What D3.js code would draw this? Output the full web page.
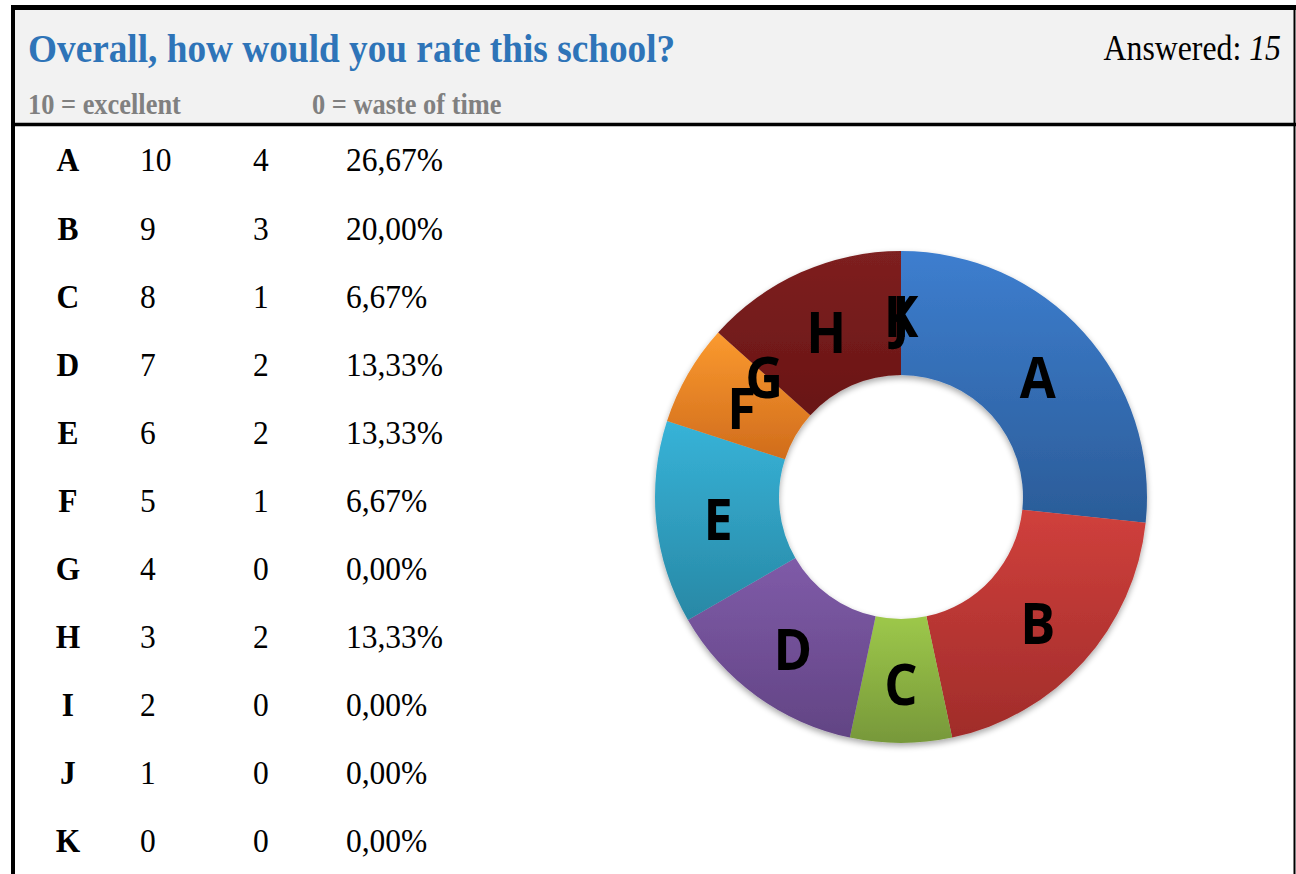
<!DOCTYPE html>
<html>
<head>
<meta charset="utf-8">
<script src="https://cdn.jsdelivr.net/npm/d3@7"></script>
<style>
  body { margin: 0; background: #fff; }
  svg { display: block; }
</style>
</head>
<body>
<script>
// data
const letters  = ["A", "B", "C", "D", "E", "F", "G", "H", "I", "J", "K"];
const scores   = [10, 9, 8, 7, 6, 5, 4, 3, 2, 1, 0];
const counts   = [4, 3, 1, 2, 2, 1, 0, 2, 0, 0, 0];
const percents = ["26,67%", "20,00%", "6,67%", "13,33%", "13,33%", "6,67%",
                  "0,00%", "13,33%", "0,00%", "0,00%", "0,00%"];
const answered = 15;

// slice colours, light (top) / dark (bottom)
const topColors = ["#3d7ecf", "#d0403c", "#9dc84a", "#7f5ba8", "#37b3d8", "#fb9a2f",
                   "#4a7ebb", "#7e2020", "#3d7ecf", "#d0403c", "#9dc84a"];
const botColors = ["#2b5c98", "#a02c2a", "#77983a", "#624484", "#2888a5", "#d06c1c",
                   "#355f90", "#691515", "#2b5c98", "#a02c2a", "#77983a"];

const width = 1296;
const height = 874;
const serif = "'Liberation Serif', 'Times New Roman', serif";
const stretch = 1.1; // the source text is a bit taller than plain Times

const svg = d3.select("body")
  .append("svg")
  .attr("width", width)
  .attr("height", height);

// header band
svg.append("rect")
  .attr("x", 13).attr("y", 8)
  .attr("width", 1281).attr("height", 116)
  .attr("fill", "#f2f2f2");

// frame lines
svg.append("line") // top
  .attr("x1", 11).attr("x2", 1296).attr("y1", 7.5).attr("y2", 7.5)
  .attr("stroke", "#000").attr("stroke-width", 5);
svg.append("line") // left
  .attr("x1", 13).attr("x2", 13).attr("y1", 5).attr("y2", height)
  .attr("stroke", "#000").attr("stroke-width", 4);
svg.append("line") // right
  .attr("x1", 1294.5).attr("x2", 1294.5).attr("y1", 5).attr("y2", height)
  .attr("stroke", "#000").attr("stroke-width", 2);
svg.append("line") // header divider
  .attr("x1", 11).attr("x2", 1296).attr("y1", 124.5).attr("y2", 124.5)
  .attr("stroke", "#000").attr("stroke-width", 3.5);

// title + sub labels
svg.append("text")
  .attr("transform", `translate(28,62) scale(1,${stretch})`)
  .attr("font-family", serif)
  .attr("font-weight", "bold")
  .attr("font-size", 37.3)
  .attr("fill", "#2e74b8")
  .text("Overall, how would you rate this school?");

const ans = svg.append("text")
  .attr("transform", `translate(1281,60) scale(1,${stretch})`)
  .attr("text-anchor", "end")
  .attr("font-family", serif)
  .attr("font-size", 31.8)
  .attr("fill", "#000");
ans.append("tspan").text("Answered: ");
ans.append("tspan").attr("font-style", "italic").text(answered);

svg.selectAll("text.sub")
  .data([{ x: 28, t: "10 = excellent" }, { x: 312, t: "0 = waste of time" }])
  .enter()
  .append("text")
  .attr("class", "sub")
  .attr("transform", d => `translate(${d.x},114) scale(1,${stretch})`)
  .attr("font-family", serif)
  .attr("font-weight", "bold")
  .attr("font-size", 26.4)
  .attr("fill", "#808080")
  .text(d => d.t);

// table
const rowY = d3.scalePoint().domain(letters).range([160, 841]);

const rows = svg.selectAll("g.row")
  .data(letters.map((l, i) => ({ l, s: scores[i], c: counts[i], p: percents[i] })))
  .enter()
  .append("g")
  .attr("class", "row")
  .attr("transform", d => `translate(0,${rowY(d.l)}) scale(1,${stretch})`)
  .attr("font-family", serif)
  .attr("font-size", 31.5)
  .attr("fill", "#000");

rows.append("text").attr("x", 68).attr("text-anchor", "middle")
  .attr("dy", "0.33em").attr("font-weight", "bold").text(d => d.l);
rows.append("text").attr("x", 140).attr("dy", "0.33em").text(d => d.s);
rows.append("text").attr("x", 253).attr("dy", "0.33em").text(d => d.c);
rows.append("text").attr("x", 346).attr("dy", "0.33em").text(d => d.p);

// donut
const cx = 901, cy = 497;
const outerR = 246, innerR = 122;

const defs = svg.append("defs");
letters.forEach((l, i) => {
  const g = defs.append("linearGradient")
    .attr("id", "grad" + i)
    .attr("x1", 0).attr("y1", 0).attr("x2", 0).attr("y2", 1);
  g.append("stop").attr("offset", "0%").attr("stop-color", topColors[i]);
  g.append("stop").attr("offset", "100%").attr("stop-color", botColors[i]);
});
const shadow = defs.append("filter").attr("id", "shadow")
  .attr("x", "-10%").attr("y", "-10%").attr("width", "120%").attr("height", "125%");
shadow.append("feGaussianBlur").attr("in", "SourceAlpha").attr("stdDeviation", 3);
shadow.append("feOffset").attr("dy", 3).attr("result", "blur");
shadow.append("feComponentTransfer").append("feFuncA").attr("type", "linear").attr("slope", 0.35);
const merge = shadow.append("feMerge");
merge.append("feMergeNode");
merge.append("feMergeNode").attr("in", "SourceGraphic");

const pie = d3.pie().sort(null).value(d => d);
const arcs = pie(counts);
const arc = d3.arc().innerRadius(innerR).outerRadius(outerR);
const labelArc = d3.arc().innerRadius((innerR + outerR) / 2).outerRadius((innerR + outerR) / 2);

const donut = svg.append("g").attr("transform", `translate(${cx},${cy})`);

donut.append("g").attr("filter", "url(#shadow)")
  .selectAll("path")
  .data(arcs)
  .enter()
  .append("path")
  .attr("d", arc)
  .attr("fill", (d, i) => `url(#grad${i})`);

donut.selectAll("text.lbl")
  .data(arcs)
  .enter()
  .append("text")
  .attr("class", "lbl")
  .attr("transform", d => {
    const [x, y] = labelArc.centroid(d);
    return `translate(${x},${y + 3}) scale(0.95,1.05)`;
  })
  .attr("text-anchor", "middle")
  .attr("dy", "0.36em")
  .attr("font-family", "'Open Sans', 'Liberation Sans', sans-serif")
  .attr("font-weight", "bold")
  .attr("font-size", 55)
  .attr("fill", "#000")
  .text((d, i) => letters[i]);
</script>
</body>
</html>
